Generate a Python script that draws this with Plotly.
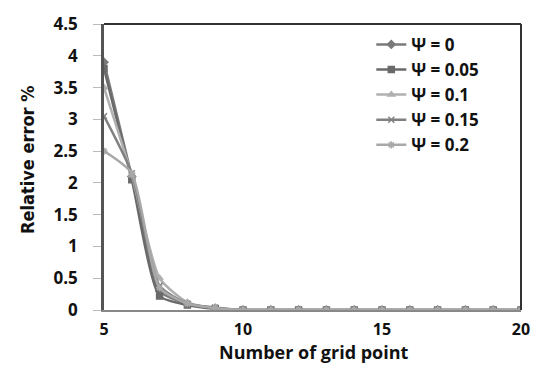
import plotly.graph_objects as go

x = list(range(5, 21))
names = ["Ψ = 0", "Ψ = 0.05", "Ψ = 0.1", "Ψ = 0.15", "Ψ = 0.2"]
psi0 = [3.9, 2.1, 0.3, 0.1, 0.03, 0, 0, 0, 0, 0, 0, 0, 0, 0, 0, 0]
psi005 = [3.8, 2.05, 0.22, 0.08, 0.02, 0, 0, 0, 0, 0, 0, 0, 0, 0, 0, 0]
psi01 = [3.5, 2.12, 0.5, 0.12, 0.03, 0, 0, 0, 0, 0, 0, 0, 0, 0, 0, 0]
psi015 = [3.05, 2.15, 0.38, 0.1, 0.04, 0, 0, 0, 0, 0, 0, 0, 0, 0, 0, 0]
psi02 = [2.5, 2.15, 0.35, 0.1, 0.03, 0, 0, 0, 0, 0, 0, 0, 0, 0, 0, 0]
series = [psi0, psi005, psi01, psi015, psi02]
colors = ["#7a7a7a", "#6a6a6a", "#b0b0b0", "#808080", "#a8a8a8"]
symbols = ["diamond", "square", "triangle-up", "x-thin", "asterisk"]
yticks = [0, 0.5, 1, 1.5, 2, 2.5, 3, 3.5, 4, 4.5]
xticks = [5, 10, 15, 20]

fig = go.Figure()
for n, s, c, m in zip(names, series, colors, symbols):
    fig.add_trace(go.Scatter(
        x=x, y=s, name=n, mode="lines+markers",
        line=dict(color=c, width=2.5, shape="spline", smoothing=0.6),
        marker=dict(symbol=m, size=6, color=c, line=dict(color=c, width=1.5)),
    ))

font_b = "Open Sans, DejaVu Sans, sans-serif"
tick_font = dict(family=font_b, size=17, color="#111", weight="bold")
fig.update_layout(
    width=542, height=366,
    margin=dict(l=104, r=15, t=21, b=56),
    plot_bgcolor="white", paper_bgcolor="white",
    showlegend=True,
    legend=dict(x=0.641, y=0.99, xanchor="left", yanchor="top",
                bgcolor="rgba(0,0,0,0)", tracegroupgap=0, itemwidth=30,
                font=dict(family=font_b, size=17, color="#111", weight="bold"),
                ),
    xaxis=dict(range=[5, 20], tickvals=xticks, ticktext=[str(v) for v in xticks],
               showgrid=False, zeroline=False, showline=True, linecolor="#888", linewidth=2,
               mirror=False, ticks="", tickfont=dict(family=font_b, size=16, color="#111", weight="bold"),
               ticklabelstandoff=4),
    yaxis=dict(range=[0, 4.5], tickvals=yticks, ticktext=[str(v) for v in yticks],
               showgrid=False, zeroline=False, showline=True, linecolor="#555", linewidth=2.5,
               ticks="outside", ticklen=8, tickcolor="#bbb",
               tickfont=tick_font, ticklabelstandoff=12),
    shapes=[
        dict(type="line", xref="paper", yref="paper", x0=0, x1=1, y0=1, y1=1,
             line=dict(color="#333", width=2)),
        dict(type="line", xref="paper", yref="paper", x0=1, x1=1, y0=0, y1=1,
             line=dict(color="#333", width=2)),
    ],
    annotations=[
        dict(text="Number of grid point", xref="paper", yref="paper",
             x=0.503, y=-0.148, xanchor="center", yanchor="middle", showarrow=False,
             font=dict(family=font_b, size=18, color="#111", weight="bold")),
        dict(text="Relative error %", xref="paper", yref="paper",
             x=-0.182, y=0.525, xanchor="center", yanchor="middle", showarrow=False, textangle=-90,
             font=dict(family="DejaVu Sans Condensed, Liberation Sans Narrow, DejaVu Sans, sans-serif",
                       size=18, color="#111", weight="bold")),
    ],
)
fig.write_html("out.html")
